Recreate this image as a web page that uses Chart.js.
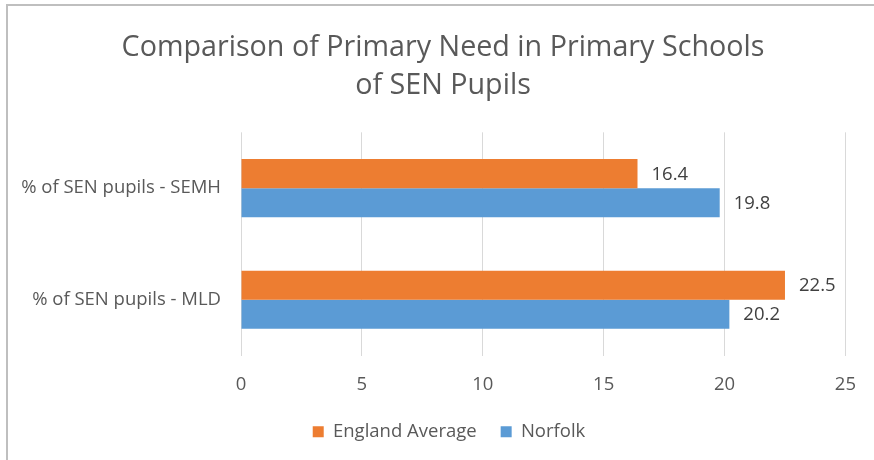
<!DOCTYPE html>
<html>
<head>
<meta charset="utf-8">
<script src="https://cdn.jsdelivr.net/npm/chart.js@4/dist/chart.umd.min.js"></script>
<style>
  html, body { margin: 0; padding: 0; background: #ffffff; }
  #wrap { position: relative; width: 874px; height: 460px; }
</style>
</head>
<body>
<div id="wrap"><canvas id="chart" width="874" height="460"></canvas></div>
<script>
// Categories (top to bottom) and series values
const categories = ['% of SEN pupils - SEMH', '% of SEN pupils - MLD'];
const englandAverage = [16.4, 22.5];
const norfolk = [19.8, 20.2];
const seriesNames = ['England Average', 'Norfolk'];
const xTicks = [0, 5, 10, 15, 20, 25];

const FONT = '"Open Sans", Lato, sans-serif';
const TEXT = '#595959';
const SMALL = 18.5;

// White background plus the thin frame line along the left and top edges
const framePlugin = {
  id: 'frame',
  beforeDraw(chart) {
    const ctx = chart.ctx;
    ctx.save();
    ctx.fillStyle = '#ffffff';
    ctx.fillRect(0, 0, chart.width, chart.height);
    ctx.strokeStyle = '#bfbfbf';
    ctx.lineWidth = 2;
    ctx.beginPath();
    ctx.moveTo(7, chart.height);
    ctx.lineTo(7, 5);
    ctx.lineTo(chart.width, 5);
    ctx.stroke();
    ctx.restore();
  }
};

// The frame is wider than the visible canvas, so title and legend sit a bit right of the canvas centre
const centreShift = {
  id: 'centreShift',
  afterLayout(chart) {
    const t = chart.titleBlock;
    if (t) { t.left += 20; t.right += 20; }
    const l = chart.legend;
    if (l) { l.left += 26; l.right += 26; }
  }
};

// Value labels just past the end of each bar
const valueLabels = {
  id: 'valueLabels',
  afterDatasetsDraw(chart) {
    const ctx = chart.ctx;
    ctx.save();
    ctx.font = SMALL + 'px ' + FONT;
    ctx.fillStyle = '#404040';
    ctx.textAlign = 'left';
    ctx.textBaseline = 'middle';
    chart.data.datasets.forEach((ds, i) => {
      chart.getDatasetMeta(i).data.forEach((bar, j) => {
        ctx.fillText(ds.data[j].toFixed(1), bar.x + 14, bar.y + 1);
      });
    });
    ctx.restore();
  }
};

new Chart(document.getElementById('chart'), {
  type: 'bar',
  data: {
    labels: categories,
    datasets: [
      { label: seriesNames[0], data: englandAverage, backgroundColor: '#ED7D31', borderWidth: 0 },
      { label: seriesNames[1], data: norfolk, backgroundColor: '#5B9BD5', borderWidth: 0 }
    ]
  },
  options: {
    indexAxis: 'y',
    responsive: false,
    animation: false,
    layout: { padding: { left: 0, right: 28, top: 0, bottom: 9 } },
    datasets: { bar: { categoryPercentage: 0.52, barPercentage: 1.0 } },
    scales: {
      x: {
        min: 0, max: 25,
        afterBuildTicks(scale) { scale.ticks = xTicks.map(v => ({ value: v })); },
        afterFit(scale) { scale.height = 43; },
        grid: { color: '#d9d9d9', lineWidth: 1, drawTicks: false },
        border: { display: false },
        ticks: { color: TEXT, font: { family: FONT, size: SMALL }, padding: 18 }
      },
      y: {
        afterFit(scale) { scale.width = 241; },
        grid: { display: false, drawTicks: false },
        border: { display: false },
        ticks: { color: TEXT, font: { family: FONT, size: SMALL }, padding: 20 }
      }
    },
    plugins: {
      title: {
        display: true,
        text: ['Comparison of Primary Need in Primary Schools', 'of SEN Pupils'],
        color: TEXT,
        font: { family: FONT, size: 28.7, weight: 'normal', lineHeight: 1.33 },
        padding: { top: 29, bottom: 27 }
      },
      legend: {
        position: 'bottom',
        labels: {
          color: TEXT,
          font: { family: FONT, size: SMALL },
          boxWidth: 11, boxHeight: 11,
          padding: 24
        }
      },
      tooltip: { enabled: false }
    }
  },
  plugins: [framePlugin, centreShift, valueLabels]
});
</script>
</body>
</html>
